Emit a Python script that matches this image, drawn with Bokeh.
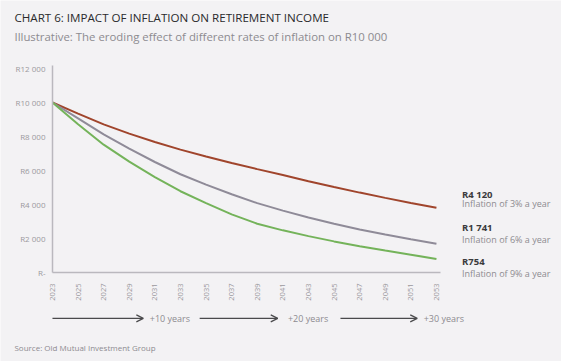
import math
from bokeh.plotting import figure
from bokeh.models import Range1d, FixedTicker, Label, Arrow, OpenHead, LinearAxis
from bokeh.embed import file_html
from bokeh.resources import INLINE

# ---- data ----
years = [2023, 2025, 2027, 2029, 2031, 2033, 2035, 2037,
         2039, 2041, 2043, 2045, 2047, 2049, 2051, 2053]
inflation_3 = [10000, 9350, 8710, 8170, 7680, 7230, 6820, 6440,
               6080, 5730, 5370, 5030, 4700, 4390, 4090, 3810]
inflation_6 = [10000, 9070, 8120, 7290, 6500, 5780, 5170, 4600,
               4080, 3640, 3240, 2870, 2530, 2230, 1950, 1690]
inflation_9 = [10000, 8720, 7520, 6520, 5610, 4780, 4080, 3420,
               2870, 2480, 2140, 1830, 1550, 1290, 1050, 800]
y_ticks = [0, 2000, 4000, 6000, 8000, 10000, 12000]
y_tick_labels = ["R-", "R2 000", "R4 000", "R6 000", "R8 000", "R10 000", "R12 000"]
end_values = ["R4 120", "R1 741", "R754"]
series_names = ["Inflation of 3% a year", "Inflation of 6% a year", "Inflation of 9% a year"]
arrow_labels = ["+10 years", "+20 years", "+30 years"]
title_text = "CHART 6: IMPACT OF INFLATION ON RETIREMENT INCOME"
subtitle_text = "Illustrative: The eroding effect of different rates of inflation on R10 000"
source_text = "Source: Old Mutual Investment Group"

BG = "#f3f2f4"
FONT = "Open Sans"
colors = ["#a0452c", "#8f8b98", "#74b35a"]

# the frame fills the whole canvas; axes are pinned inside it
p = figure(width=561, height=361, min_border=0,
           x_range=Range1d(2018.94, 2062.77), y_range=Range1d(-5235, 16000),
           x_axis_location=None, y_axis_location=None,
           output_backend="svg", toolbar_location=None,
           background_fill_color=BG, border_fill_color=BG)
p.outline_line_color = None
p.grid.visible = False

for ys, c in zip([inflation_3, inflation_6, inflation_9], colors):
    p.line(years, ys, line_color=c, line_width=2)

yax = LinearAxis(fixed_location=2023, bounds=(0, 12180),
                 ticker=FixedTicker(ticks=y_ticks))
yax.major_label_overrides = {t: l for t, l in zip(y_ticks, y_tick_labels)}
yax.major_label_standoff = 1
xax = LinearAxis(fixed_location=0, bounds=(2023, 2053.3),
                 ticker=FixedTicker(ticks=years))
xax.major_label_orientation = math.pi / 2
xax.major_label_standoff = 5
for ax in (xax, yax):
    ax.axis_line_color = "#bab8be"
    ax.axis_line_width = 1.5
    ax.major_tick_line_color = None
    ax.minor_tick_line_color = None
    ax.major_label_text_color = "#9b999e"
    ax.major_label_text_font = FONT
    ax.major_label_text_font_size = "8px"
xax.major_label_text_font_size = "7.5px"
p.add_layout(yax, "left")
p.add_layout(xax, "below")

# titles
p.add_layout(Label(x=2020.03, y=15020, text=title_text, text_font=FONT,
                   text_font_size="11.6px", text_font_style="normal",
                   text_color="#2a2a2c", text_baseline="middle"))
p.add_layout(Label(x=2020.03, y=13900, text=subtitle_text, text_font=FONT,
                   text_font_size="11.4px", text_color="#8d8b90",
                   text_baseline="middle"))

# end labels
val_y = [4590, 2660, 660]
name_y = [4040, 1920, -40]
for v, n, vy, ny in zip(end_values, series_names, val_y, name_y):
    p.add_layout(Label(x=2055.0, y=vy, text=v, text_font=FONT,
                       text_font_size="9.5px", text_font_style="bold",
                       text_color="#3a3a3c", text_baseline="middle"))
    p.add_layout(Label(x=2055.0, y=ny, text=n, text_font=FONT,
                       text_font_size="9px", text_color="#8d8b90",
                       text_baseline="middle"))

# arrows
arrow_x = [(2023.0, 2030.1, 2030.6), (2034.5, 2040.6, 2041.4), (2045.5, 2051.5, 2052.0)]
arrow_y = -2700
for (xs, xe, xt), lab in zip(arrow_x, arrow_labels):
    p.add_layout(Arrow(end=OpenHead(size=7, line_color="#4a4a4c", line_width=1.2),
                       x_start=xs, y_start=arrow_y, x_end=xe, y_end=arrow_y,
                       line_color="#4a4a4c", line_width=1.2))
    p.add_layout(Label(x=xt, y=arrow_y, text=lab, text_font=FONT,
                       text_font_size="9px", text_color="#8d8b90",
                       text_baseline="middle"))

p.add_layout(Label(x=2020.03, y=-4420, text=source_text, text_font=FONT,
                   text_font_size="8px", text_color="#8d8b90",
                   text_baseline="middle"))

open("out.html", "w").write(file_html(p, INLINE))
